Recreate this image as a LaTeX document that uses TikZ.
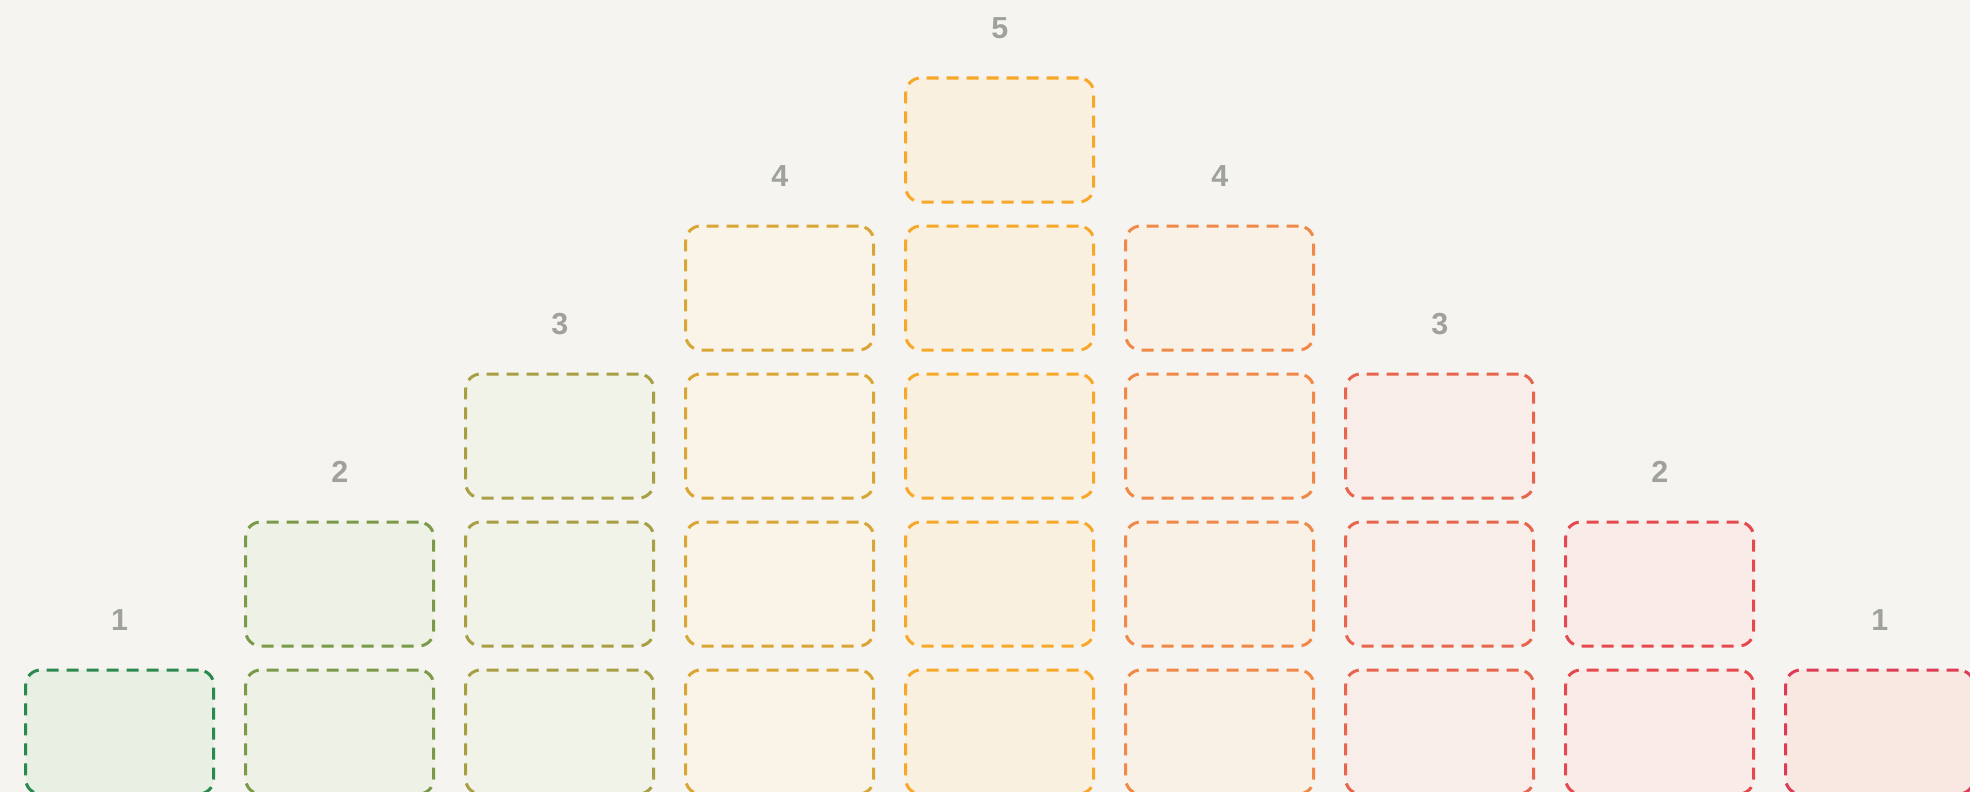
\documentclass[tikz,border=0pt]{standalone}
\usepackage{fontspec}
\setmainfont{Liberation Sans}
\definecolor{bg}{HTML}{F5F4F0}
\definecolor{lblgray}{HTML}{A0A19C}
\definecolor{s1}{HTML}{2A8A4E}\definecolor{f1}{HTML}{E8EFE3}
\definecolor{s2}{HTML}{7A9A48}\definecolor{f2}{HTML}{EEF1E6}
\definecolor{s3}{HTML}{A89E44}\definecolor{f3}{HTML}{F1F3E8}
\definecolor{s4}{HTML}{D9A535}\definecolor{f4}{HTML}{FAF3E8}
\definecolor{s5}{HTML}{F7A829}\definecolor{f5}{HTML}{FAF0E0}
\definecolor{s6}{HTML}{F08848}\definecolor{f6}{HTML}{FAF1E6}
\definecolor{s7}{HTML}{E8654D}\definecolor{f7}{HTML}{F9EDE9}
\definecolor{s8}{HTML}{E5494E}\definecolor{f8}{HTML}{F9ECE8}
\definecolor{s9}{HTML}{DE3C55}\definecolor{f9}{HTML}{F9E8E2}
\begin{document}
\begin{tikzpicture}[x=1pt,y=-1pt,
  box/.style={draw, dash pattern=on 12pt off 8pt, line width=3pt,
    rounded corners=15pt, minimum width=188pt, minimum height=124pt,
    inner sep=0pt, shape=rectangle},
  lbl/.style={font=\bfseries\fontsize{30.4}{36}\selectfont, text=lblgray,
    anchor=base, inner sep=0pt}]
\useasboundingbox (0,0) rectangle (1970,792);
\clip (0,0) rectangle (1970,792);
\fill[bg] (0,0) rectangle (1970,792);
\foreach \ci/\nn in {1/1,2/2,3/3,4/4,5/5,6/4,7/3,8/2,9/1} {
  \pgfmathsetmacro\cx{119.7+220*(\ci-1)}
  \foreach \r in {1,...,\nn} {
    \pgfmathsetmacro\cy{732-148*(\r-1)}
    \node[box, draw=s\ci, fill=f\ci] (box-\ci-\r) at (\cx,\cy) {};
  }
  \pgfmathsetmacro\ly{670-148*(\nn-1)-39.5}
  \node[lbl] (lbl-\ci) at (\cx,\ly) {\nn};
}
\end{tikzpicture}
\end{document}
